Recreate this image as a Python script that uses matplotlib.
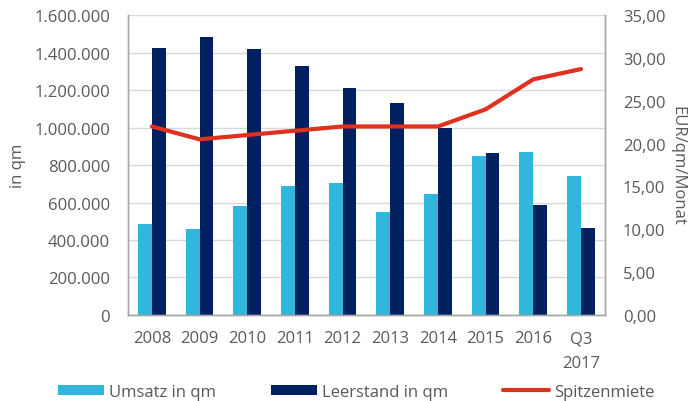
import numpy as np
import matplotlib.pyplot as plt
from matplotlib.ticker import FuncFormatter

# Daten
jahre = ["2008", "2009", "2010", "2011", "2012", "2013", "2014", "2015", "2016", "Q3\n2017"]
umsatz = [485000, 459000, 583000, 690000, 704000, 548000, 645000, 848000, 869000, 741000]
leerstand = [1422000, 1481000, 1419000, 1326000, 1209000, 1131000, 996000, 862000, 588000, 466000]
spitzenmiete = [22.0, 20.5, 21.0, 21.5, 22.0, 22.0, 22.0, 24.0, 27.5, 28.7]

plt.rcParams["font.family"] = ["Open Sans", "DejaVu Sans"]
grau = "#595959"
hell = "#31B7DE"
dunkel = "#002060"
rot = "#E0301E"

fig = plt.figure(figsize=(6.92, 4.02), dpi=100)
ax = fig.add_axes([0.185, 0.214, 0.689, 0.746])
ax2 = ax.twinx()

x = np.arange(len(jahre))
b = 0.29
ax.bar(x - b / 2, umsatz, b, color=hell, label="Umsatz in qm", zorder=2)
ax.bar(x + b / 2, leerstand, b, color=dunkel, label="Leerstand in qm", zorder=2)
ax2.plot(x, spitzenmiete, color=rot, lw=3, label="Spitzenmiete", solid_capstyle="round")

ax.set_xlim(-0.5, len(jahre) - 0.5)
ax.set_ylim(0, 1600000)
ax.set_yticks(np.arange(0, 1600001, 200000))
ax.yaxis.set_major_formatter(FuncFormatter(lambda v, p: f"{int(v):,}".replace(",", ".")))
ax2.set_ylim(0, 35)
ax2.set_yticks(np.arange(0, 36, 5))
ax2.yaxis.set_major_formatter(FuncFormatter(lambda v, p: f"{v:.2f}".replace(".", ",")))

ax.set_xticks(x)
ax.set_xticklabels(jahre, linespacing=1.7)
ax.grid(axis="y", color="#D9D9D9", lw=1, zorder=0)
ax.set_axisbelow(True)

for a in (ax, ax2):
    a.spines["top"].set_visible(False)
    for s in ("left", "right", "bottom"):
        a.spines[s].set_color("#A6A6A6")
        a.spines[s].set_linewidth(1)
    a.tick_params(length=0, labelsize=12, colors=grau, pad=13)
ax.tick_params(axis="x", pad=11)

ax.set_ylabel("in qm", color=grau, fontsize=12, labelpad=6)
ax2.set_ylabel("EUR/qm/Monat", color=grau, fontsize=12, rotation=270, labelpad=14)

h1, l1 = ax.get_legend_handles_labels()
h2, l2 = ax2.get_legend_handles_labels()
fig.legend(h1 + h2, l1 + l2, loc="lower center", bbox_to_anchor=(0.515, -0.035), ncol=3,
           frameon=False, fontsize=12, labelcolor=grau, handlelength=2.75,
           handleheight=0.6, handletextpad=0.3, columnspacing=3.3)

fig.savefig("out.png", dpi=100)
